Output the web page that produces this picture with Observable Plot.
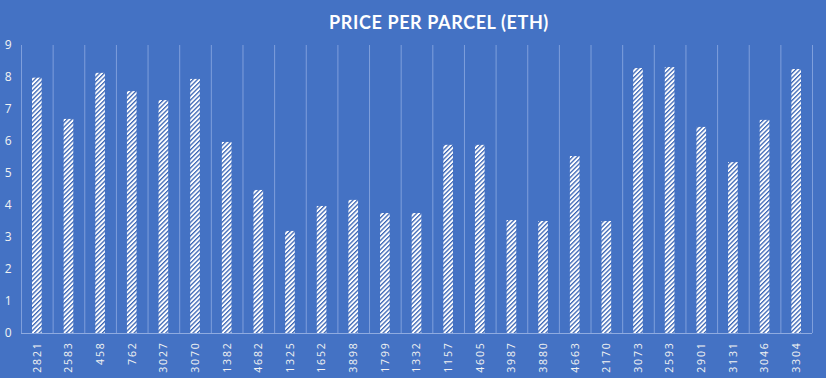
<!DOCTYPE html>
<html>
<head>
<meta charset="utf-8">
<script src="https://cdn.jsdelivr.net/npm/d3@7"></script>
<script src="https://cdn.jsdelivr.net/npm/@observablehq/plot@0.6"></script>
<style>
  html, body { margin: 0; padding: 0; background: #4472c4; }
  #chart { width: 826px; height: 378px; }
  svg { display: block; }
</style>
</head>
<body>
<div id="chart"></div>
<script>
const title = "PRICE PER PARCEL (ETH)";
const parcels = ["2821","2583","458","762","3027","3070","1382","4682","1325","1652","3898","1799","1332","1157","4605","3987","3880","4663","2170","3073","2593","2901","3131","3046","3304"];
const prices = [7.98,6.69,8.13,7.56,7.28,7.94,5.97,4.47,3.19,3.97,4.16,3.75,3.75,5.88,5.88,3.53,3.50,5.53,3.50,8.28,8.31,6.44,5.34,6.66,8.25];
const yTicks = [0,1,2,3,4,5,6,7,8,9];

const data = parcels.map((p, i) => ({parcel: p, price: prices[i], i}));
const bounds = d3.range(parcels.length + 1);

const chart = Plot.plot({
  width: 826,
  height: 378,
  marginLeft: 21,
  marginRight: 14,
  marginTop: 45,
  marginBottom: 45,
  style: {background: "#4472c4", color: "#ffffff", fontFamily: "'Open Sans', sans-serif"},
  x: {domain: [0, parcels.length], axis: null, label: null},
  y: {domain: [0, 9], axis: null, label: null},
  marks: [
    () => {
      const ns = "http://www.w3.org/2000/svg";
      const defs = document.createElementNS(ns, "defs");
      defs.innerHTML = `<pattern id="hatch" patternUnits="userSpaceOnUse" width="3.2" height="3.2" patternTransform="rotate(45)">
        <rect width="3.2" height="3.2" fill="#ffffff"/>
        <rect x="0" y="0" width="1.3" height="3.2" fill="#3a64b4"/>
      </pattern>`;
      return defs;
    },
    Plot.ruleX(bounds, {x: d => d, y1: 0, y2: 9, stroke: "#7f9fdc", strokeWidth: 1}),
    Plot.rectY(data, {x1: "i", x2: d => d.i + 1, y: "price", fill: "url(#hatch)", insetLeft: 11, insetRight: 11}),
    Plot.ruleY([0], {stroke: "#8fabe0", strokeWidth: 1}),
    Plot.axisY(yTicks, {tickSize: 0, tickPadding: 10, fontSize: 12, fill: "#f2f2f2", tickFormat: d => d, label: null}),
    Plot.axisX(data.map(d => d.i + 0.5), {
      tickSize: 0, tickPadding: 8, tickRotate: -90, fontSize: 10.5, fill: "#f2f2f2", label: null,
      tickFormat: v => parcels[Math.floor(v)], textStroke: "none"
    }),
    Plot.text([title], {frameAnchor: "top", dx: 22, dy: -29, text: d => d, fontSize: 18, fontWeight: "bold", fill: "#ffffff", fontFamily: "Lato, sans-serif"})
  ]
});
d3.select(chart).selectAll("g[aria-label='x-axis tick label'] text").style("letter-spacing", "1.8px");
d3.select(chart).selectAll("g[aria-label='text'] text").style("letter-spacing", "0.6px");
document.getElementById("chart").append(chart);
</script>
</body>
</html>
